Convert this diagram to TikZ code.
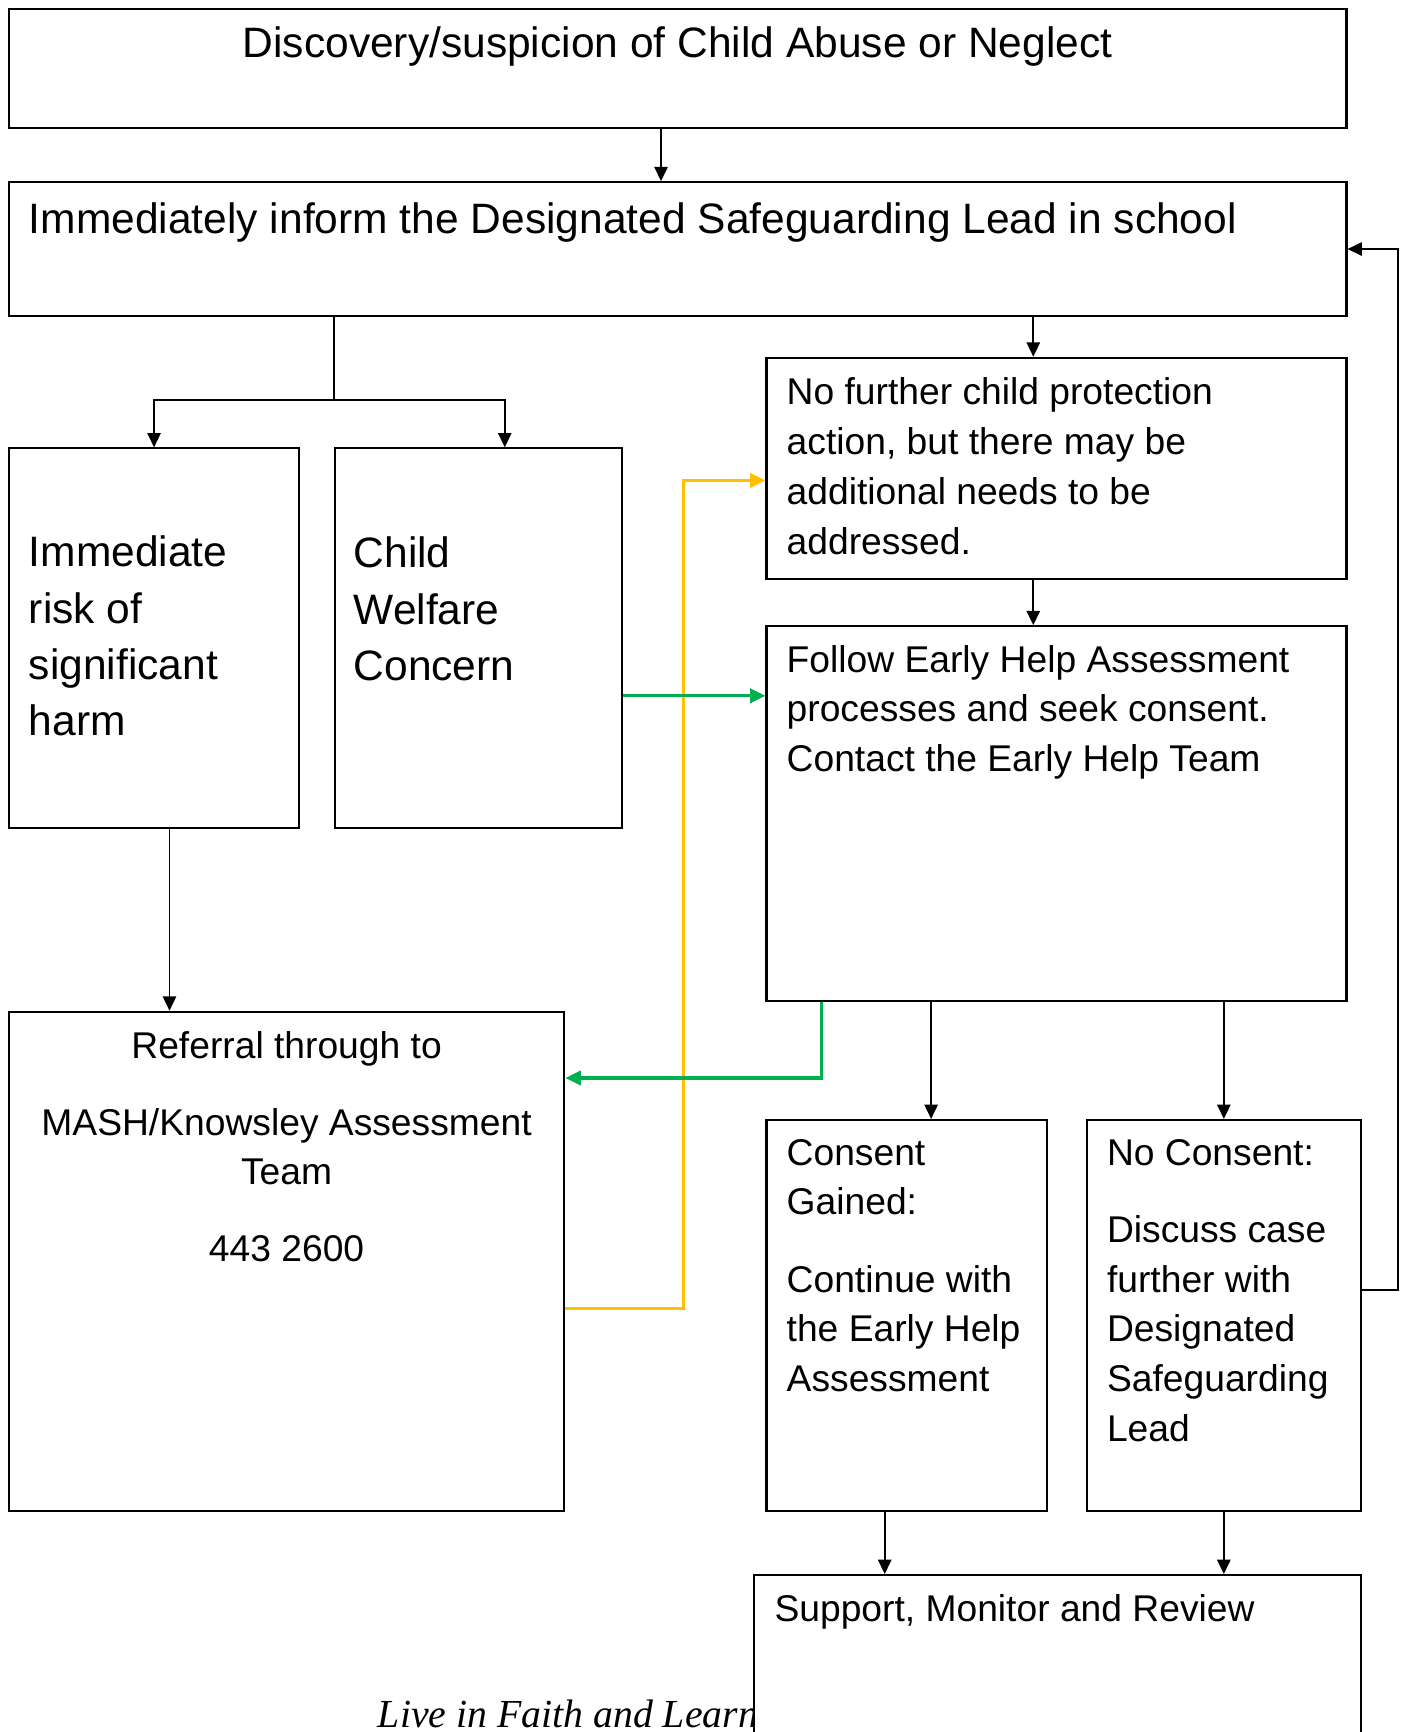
\documentclass[tikz,border=0pt]{standalone}
\usepackage{fontspec}
\setmainfont{Liberation Sans}
\newfontfamily\mottofont{Liberation Serif}
\usepackage{tikz}
\usetikzlibrary{arrows.meta, positioning}
\definecolor{flowgreen}{RGB}{0,176,80}
\definecolor{flowamber}{RGB}{255,192,0}

\begin{document}
\begin{tikzpicture}[
  x=1pt, y=-1pt,
  box/.style={draw, line width=1.9pt, anchor=north west, inner sep=0pt, minimum width=#1},
  txt/.style={anchor=north west, inner sep=0pt, align=left, font=\fontsize{33.7}{45}\selectfont},
  bigtxt/.style={anchor=north west, inner sep=0pt, align=left, font=\fontsize{38.5}{51}\selectfont},
  link/.style={line width=1.8pt},
  arr/.style={link, -{Triangle[length=13pt, width=12pt]}},
  garr/.style={-{Triangle[length=14pt, width=13pt]}, line width=2.8pt, flowgreen},
  yarr/.style={-{Triangle[length=14pt, width=13pt]}, line width=2.8pt, flowamber},
]
\useasboundingbox (0,0) rectangle (1270,1568);

\node[box=1211pt, minimum height=108pt] (disc) at (7,7) {};
\node[box=1211pt, minimum height=121pt] (dsl) at (7,164) {};
\node[box=263pt, minimum height=344pt] (risk) at (7,405) {};
\node[box=260pt, minimum height=344pt] (welfare) at (302,405) {};
\node[box=525pt, minimum height=200pt] (nofurther) at (693,323) {};
\node[box=525pt, minimum height=339pt] (earlyhelp) at (693,566) {};
\node[box=503pt, minimum height=452pt] (referral) at (7,915) {};
\node[box=254pt, minimum height=354pt] (consent) at (693,1013) {};
\node[box=248pt, minimum height=354pt] (noconsent) at (983,1013) {};

\node[bigtxt, anchor=north] (tdisc) at ([yshift=-17pt]disc.north) {Discovery/suspicion of Child Abuse or Neglect};
\node[bigtxt] (tdsl) at ([xshift=19pt, yshift=-19pt]dsl.north west) {Immediately inform the Designated Safeguarding Lead in school};
\node[bigtxt] (trisk) at ([xshift=19pt, yshift=-80pt]risk.north west) {Immediate\\risk of\\significant\\harm};
\node[bigtxt] (twelfare) at ([xshift=18pt, yshift=-81pt]welfare.north west) {Child\\Welfare\\Concern};
\node[txt] (tnofurther) at ([xshift=19pt, yshift=-19pt]nofurther.north west) {No further child protection\\action, but there may be\\additional needs to be\\addressed.};
\node[txt] (tearlyhelp) at ([xshift=19pt, yshift=-18pt]earlyhelp.north west) {Follow Early Help Assessment\\processes and seek consent.\\Contact the Early Help Team};
\node[txt, anchor=north, align=center] (treferral) at ([yshift=-19pt]referral.north) {Referral through to\\[24pt]MASH/Knowsley Assessment\\Team\\[24pt]443 2600};
\node[txt] (tconsent) at ([xshift=19pt, yshift=-18pt]consent.north west) {Consent\\Gained:\\[25pt]Continue with\\the Early Help\\Assessment};
\node[txt] (tnoconsent) at ([xshift=19pt, yshift=-18pt]noconsent.north west) {No Consent:\\[25pt]Discuss case\\further with\\Designated\\Safeguarding\\Lead};

\node[anchor=base west, inner sep=0pt, font=\mottofont\itshape\fontsize{36}{40}\selectfont] (motto) at (342,1564) {Live in Faith and Learn};
\node[box=549pt, minimum height=250pt, fill=white] (support) at (682,1425) {};
\node[txt] (tsupport) at ([xshift=19pt, yshift=-18pt]support.north west) {Support, Monitor and Review};

\coordinate (nfin) at ([xshift=-21pt]nofurther.north);
\draw[arr] ([xshift=-15pt]disc.south) -- ([xshift=-15pt]dsl.north);
\draw[link] (dsl.south -| welfare.west) -- ++(0,75) coordinate (split);
\draw[arr] (split) -| (risk.north);
\draw[arr] (split) -| ([xshift=24pt]welfare.north);
\draw[arr] (nfin |- dsl.south) -- (nfin);
\draw[arr] (nfin |- nofurther.south) -- (nfin |- earlyhelp.north);
\draw[arr] ([xshift=14pt]risk.south) -- ([xshift=14pt]risk.south |- referral.north);

\draw[yarr] ([yshift=-43pt]referral.east) -- ++(107,0) |- ([yshift=-11pt]nofurther.west);
\draw[garr] ([yshift=-52pt]welfare.east) -- ([yshift=-52pt]welfare.east -| earlyhelp.west);
\draw[garr] ([xshift=51pt]earlyhelp.south west) |- ([yshift=166pt]referral.east);

\draw[arr] ([xshift=22pt]consent.north |- earlyhelp.south) -- ([xshift=22pt]consent.north);
\draw[arr] (noconsent.north |- earlyhelp.south) -- (noconsent.north);
\draw[arr] ([xshift=-20pt]consent.south) -- ([xshift=-20pt]consent.south |- support.north);
\draw[arr] (noconsent.south) -- (noconsent.south |- support.north);
\draw[arr] ([yshift=23pt]noconsent.east) -- ++(33,0) |- (dsl.east);
\end{tikzpicture}
\end{document}
